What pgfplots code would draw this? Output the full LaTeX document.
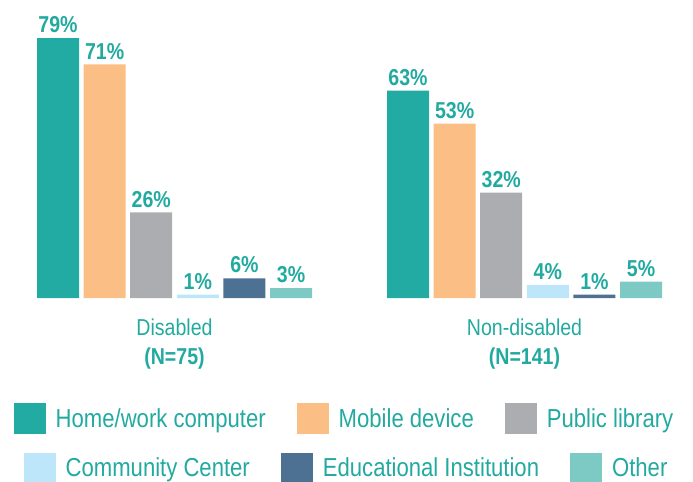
\documentclass[border=0pt]{standalone}
\usepackage{pgfplots}
\pgfplotsset{compat=1.18}
\usepackage{fontspec}
\setmainfont{Liberation Sans}[FakeStretch=0.85]

\definecolor{c1}{HTML}{22ABA2}
\definecolor{c2}{HTML}{FBBE84}
\definecolor{c3}{HTML}{ACADB1}
\definecolor{c4}{HTML}{BDE6FA}
\definecolor{c5}{HTML}{4C7192}
\definecolor{c6}{HTML}{7DCAC5}
\definecolor{txt}{HTML}{22AAA0}

\pgfplotsset{
  sw/.style={fill=#1, draw=none,
    legend image code/.code={\fill[fill=#1] (0pt,-15.5pt) rectangle (32pt,15.5pt);}},
  base/.style={
    x=350pt, y=3.29pt,
    xmin=-0.4986, xmax=1.4814, ymin=0, ymax=90.58,
    enlargelimits=false,
    axis line style={draw=none},
    major tick style={draw=none},
    ytick=\empty,
    legend cell align=left,
    legend style={draw=none, fill=none, inner sep=0pt,
      font=\fontsize{26}{30}\selectfont, text=txt,
      nodes={inner sep=0pt},
      /tikz/every odd column/.style={column sep=10pt},
      /tikz/every even column/.style={column sep=31pt}},
  },
}

\begin{document}
\begin{tikzpicture}
\begin{axis}[
  base, name=ax,
  ybar=4.6pt, bar width=42pt,
  xtick={0,1},
  xticklabels={{Disabled\\\textbf{(N=75)}},{Non-disabled\\\textbf{(N=141)}}},
  xticklabel style={align=center, text=txt, inner sep=0pt, yshift=-16pt,
    font=\fontsize{23}{29}\selectfont},
  /pgf/number format/assume math mode=true,
  nodes near coords={\pgfmathprintnumber{\pgfplotspointmeta}\%},
  every node near coord/.append style={text=txt, inner sep=0pt, yshift=5pt,
    font=\fontsize{23}{26}\selectfont\bfseries},
  legend style={at={(0.4957,-0.4044)}, anchor=center},
  legend columns=3,
]
\addplot[sw=c1] coordinates {(0,79) (1,63)};
\addplot[sw=c2] coordinates {(0,71) (1,53)};
\addplot[sw=c3] coordinates {(0,26) (1,32)};
\addplot[sw=c4] coordinates {(0,1) (1,4)};
\addplot[sw=c5] coordinates {(0,6) (1,1)};
\addplot[sw=c6] coordinates {(0,3) (1,5)};
\legend{Home/work computer, Mobile device, Public library}
\end{axis}
\begin{axis}[
  base, hide axis,
  legend style={at={(0.4986,-0.5705)}, anchor=center},
  legend columns=3,
]
\addlegendimage{sw=c4}
\addlegendentry{Community Center}
\addlegendimage{sw=c5}
\addlegendentry{Educational Institution}
\addlegendimage{sw=c6}
\addlegendentry{Other}
\end{axis}
\pgfresetboundingbox
\path[use as bounding box] (ax.south west) ++(0,-183pt) rectangle (ax.north east);
\end{tikzpicture}
\end{document}
